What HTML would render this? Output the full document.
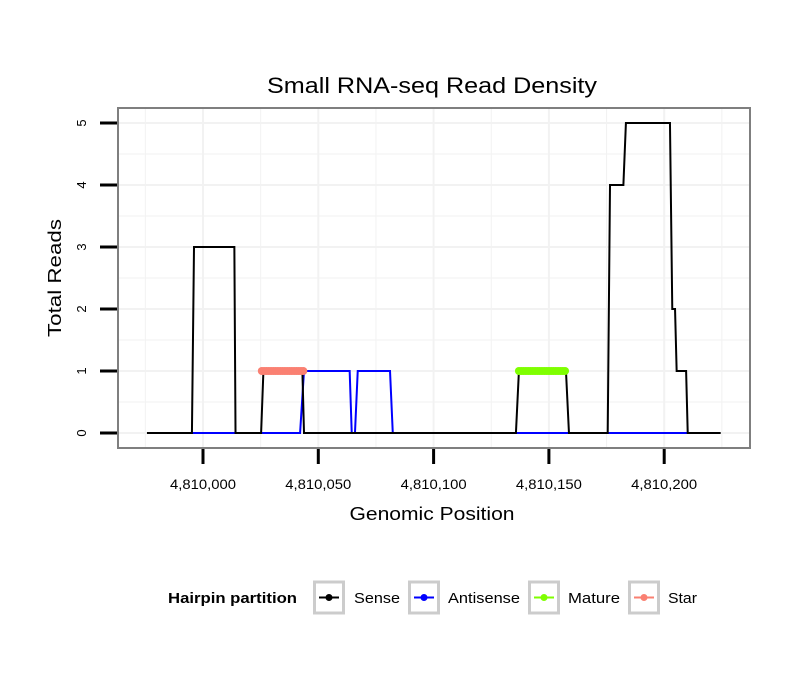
<!DOCTYPE html>
<html><head><meta charset="utf-8"><style>
body{margin:0;background:#fff;}
svg{display:block;font-family:"Liberation Sans",sans-serif;}
</style></head><body>
<svg id="chart" width="810" height="690">
<rect width="810" height="690" fill="#fff"/>
<text x="432" y="93" font-size="22" text-anchor="middle" textLength="330" lengthAdjust="spacingAndGlyphs">Small RNA-seq Read Density</text>
<g id="grid"></g>
<g id="series"></g>
<rect x="118" y="108" width="632" height="340" fill="none" stroke="#7f7f7f" stroke-width="2"/>
<g id="axes"></g>
<text x="432" y="520" font-size="18" text-anchor="middle" textLength="165" lengthAdjust="spacingAndGlyphs">Genomic Position</text>
<text transform="translate(61,278) rotate(-90)" font-size="18" text-anchor="middle" textLength="118" lengthAdjust="spacingAndGlyphs">Total Reads</text>
<g>
<text x="168" y="603" font-size="15" font-weight="bold" textLength="129" lengthAdjust="spacingAndGlyphs">Hairpin partition</text>
<g id="legend"></g>
</g>
</svg>
<script>
const sensePos=[-24.3,-4.8,-3.9,13.6,14.1,25.2,26.2,43.1,43.8,135.7,137.0,157.4,158.7,175.5,176.5,182.3,183.4,202.5,203.5,204.7,205.4,209.5,210.2,224.5];
const senseVal=[0,0,3,3,0,0,1,1,0,0,1,1,0,0,4,4,5,5,2,2,1,1,0,0];
const antiPos=[-4.8,42.1,43.8,63.6,64.5,65.9,67.1,81.1,82.3,210.2];
const antiVal=[0,0,1,1,0,0,1,1,0,0];
const starPos=[25.5,26.5,27.5,28.5,29.5,30.5,31.5,32.5,33.5,34.5,35.5,36.5,37.5,38.5,39.5,40.5,41.5,42.5,43.5];
const starVal=[1,1,1,1,1,1,1,1,1,1,1,1,1,1,1,1,1,1,1];
const maturePos=[137,138,139,140,141,142,143,144,145,146,147,148,149,150,151,152,153,154,155,156,157];
const matureVal=[1,1,1,1,1,1,1,1,1,1,1,1,1,1,1,1,1,1,1,1,1];
const xTicks=[0,50,100,150,200];
const xTickLabels=["4,810,000","4,810,050","4,810,100","4,810,150","4,810,200"];
const yTicks=[0,1,2,3,4,5];
const legendNames=["Sense","Antisense","Mature","Star"];
const legendColors=["#000000","#0000ff","#7fff00","#fa8072"];

const NS="http://www.w3.org/2000/svg";
const X=v=>203+v*2.306;
const Y=v=>433-v*62;
function mk(tag,attrs,parent){const e=document.createElementNS(NS,tag);for(const k in attrs)e.setAttribute(k,attrs[k]);parent.appendChild(e);return e;}
const grid=document.getElementById('grid'),series=document.getElementById('series'),axes=document.getElementById('axes'),legend=document.getElementById('legend');

for(let v=-0.5;v<=5.5;v+=0.5){const y=Y(v);if(y<110||y>446)continue;
 const l=mk('line',{x1:119,x2:749,y1:y,y2:y,stroke:'#f2f2f2','stroke-width':v%1===0?2:1},grid);
 }
for(let v=-25;v<=225;v+=25){const x=X(v);if(x<120||x>748)continue;
 const l=mk('line',{x1:x,x2:x,y1:109,y2:447,stroke:'#f2f2f2','stroke-width':v%50===0?2:1},grid);
 }

function line(pos,val,color,name){
 const p=mk('polyline',{points:pos.map((d,i)=>X(d)+','+Y(val[i])).join(' '),fill:'none',stroke:color,'stroke-width':2},series);
 }
function dots(pos,val,color,name){
 mk('polyline',{points:pos.map((d,i)=>X(d)+','+Y(val[i])).join(' '),fill:'none',stroke:color,'stroke-width':2},series);
 pos.forEach((d,i)=>{const c=mk('circle',{cx:X(d),cy:Y(val[i]),r:4,fill:color},series);
 });}
line(antiPos,antiVal,'#0000ff','antisense-line');
line(sensePos,senseVal,'#000000','sense-line');
dots(starPos,starVal,'#fa8072','star-point');
dots(maturePos,matureVal,'#7fff00','mature-point');

xTicks.forEach((v,i)=>{const x=X(v);
 const t=mk('line',{x1:x,x2:x,y1:449,y2:464,stroke:'#000','stroke-width':3},axes);
 
 const tx=mk('text',{x:x,y:489,'font-size':14,'text-anchor':'middle',textLength:66,lengthAdjust:'spacingAndGlyphs'},axes);tx.textContent=xTickLabels[i];
 });
yTicks.forEach(v=>{const y=Y(v);
 const t=mk('line',{x1:100,x2:117,y1:y,y2:y,stroke:'#000','stroke-width':3},axes);
 
 const tx=mk('text',{transform:`translate(86,${y}) rotate(-90)`,'font-size':13,'text-anchor':'middle'},axes);tx.textContent=v;
 });

const boxX=[313,408,528,628],labX=[354,448,568,668],labW=[46,72,52,29];
legendNames.forEach((n,i)=>{
 const g=mk('g',{},legend);
 
 
 mk('rect',{x:boxX[i]+1.5,y:582,width:29,height:31,fill:'#fff',stroke:'#cccccc','stroke-width':3},g);
 mk('line',{x1:boxX[i]+6,x2:boxX[i]+26,y1:597.5,y2:597.5,stroke:legendColors[i],'stroke-width':2},g);
 mk('circle',{cx:boxX[i]+16,cy:597.5,r:3.5,fill:legendColors[i]},g);
 const t=mk('text',{x:labX[i],y:603,'font-size':15,textLength:labW[i],lengthAdjust:'spacingAndGlyphs'},g);t.textContent=n;});
</script>
</body></html>
